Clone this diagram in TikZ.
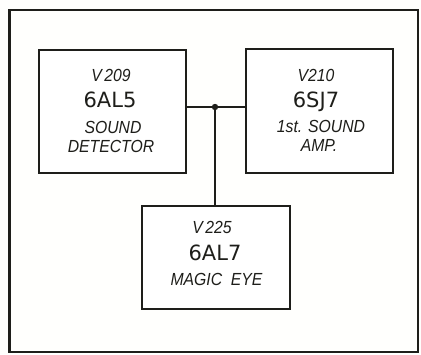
\documentclass[tikz,border=0pt]{standalone}
\usepackage{fontspec}
\setmainfont{Liberation Sans}
\newfontfamily\bigfont{DejaVu Sans}
\definecolor{ink}{HTML}{1E1E1A}
\definecolor{paper}{HTML}{FFFFFD}
\newcommand\smtxt[1]{\scalebox{0.9}[1]{\fontsize{17.5}{17.5}\selectfont\itshape #1}}
\newcommand\bigtxt[1]{{\bigfont\fontsize{21}{22}\selectfont #1}}
\begin{document}
\begin{tikzpicture}[x=1pt,y=-1pt,
  tube/.style={draw=ink,line width=2.8pt,fill=white,inner sep=0pt,anchor=north west},
  lbl/.style={anchor=base,inner sep=0pt,text=ink},
  wire/.style={draw=ink,line width=1.4pt}]
\useasboundingbox[fill=paper] (0,0) rectangle (421,354);
\draw[ink,line width=2.2pt] (9.5,10) rectangle (418,352);
\node[tube,minimum width=147pt,minimum height=123pt] (b1) at (37.5,48.5) {};
\node[tube,minimum width=147pt,minimum height=124pt] (b2) at (244.5,47.5) {};
\node[tube,minimum width=148pt,minimum height=103pt] (b3) at (140.5,204.5) {};
\coordinate (j) at (215,107);
\draw[wire] (b1.east |- j) -- (j) -- (b2.west |- j);
\draw[wire] (j) -- (j |- b3.north);
\fill[ink] (j) circle (3.2pt);
% box 1
\node[lbl] (t1a) at (111,81.5) {\smtxt{V\,209}};
\node[lbl] (t1b) at (110,107.3) {\bigtxt{6AL5}};
\node[lbl] (t1c) at (113,133) {\smtxt{SOUND}};
\node[lbl] (t1d) at (111,152.5) {\smtxt{DETECTOR}};
% box 2
\node[lbl] (t2a) at (316,81.5) {\smtxt{V210}};
\node[lbl] (t2b) at (316,107.3) {\bigtxt{6SJ7}};
\node[lbl] (t2c) at (321,132.7) {\smtxt{1st. SOUND}};
\node[lbl] (t2d) at (319,151.7) {\smtxt{AMP.}};
% box 3
\node[lbl] (t3a) at (212,233) {\smtxt{V\,225}};
\node[lbl] (t3b) at (215,260.5) {\bigtxt{6AL7}};
\node[lbl] (t3c) at (216.5,285) {\smtxt{MAGIC\ \ EYE}};
\end{tikzpicture}
\end{document}
